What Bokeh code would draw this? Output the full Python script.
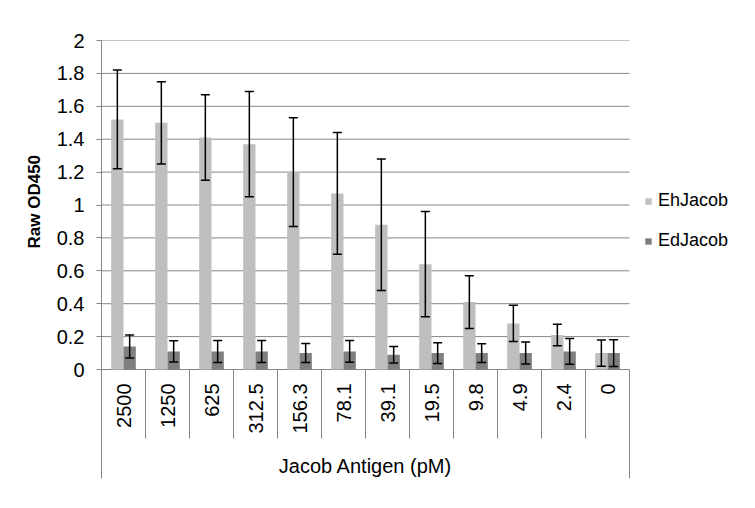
import math
from bokeh.plotting import figure
from bokeh.models import (Range1d, FixedTicker, ColumnDataSource, Whisker, TeeHead,
                          Title, Legend, LegendItem)
from bokeh.core.properties import value
from bokeh.embed import file_html
from bokeh.resources import INLINE

# ---- data ----
categories = ["2500", "1250", "625", "312.5", "156.3", "78.1", "39.1", "19.5", "9.8", "4.9", "2.4", "0"]
eh_values = [1.52, 1.50, 1.41, 1.37, 1.20, 1.07, 0.88, 0.64, 0.41, 0.28, 0.21, 0.10]
eh_errors = [0.30, 0.25, 0.26, 0.32, 0.33, 0.37, 0.40, 0.32, 0.16, 0.11, 0.065, 0.08]
ed_values = [0.14, 0.11, 0.11, 0.11, 0.10, 0.11, 0.09, 0.10, 0.10, 0.10, 0.11, 0.10]
ed_errors = [0.07, 0.065, 0.067, 0.067, 0.058, 0.066, 0.05, 0.063, 0.057, 0.067, 0.078, 0.081]
series_names = ["EhJacob", "EdJacob"]
y_ticks = [0, 0.2, 0.4, 0.6, 0.8, 1, 1.2, 1.4, 1.6, 1.8, 2]
y_tick_labels = ["0", "0.2", "0.4", "0.6", "0.8", "1", "1.2", "1.4", "1.6", "1.8", "2"]
x_title = "Jacob Antigen (pM)"
y_title = "Raw OD450"

FONT = "Liberation Sans"
GRID = "#868686"
LIGHT = "#bfbfbf"
DARK = "#7f7f7f"

n = len(categories)
centers = [i + 0.5 for i in range(n)]
bar_w = 0.28
x_extra = 2.636   # room right of the category area for the legend

p = figure(width=745, height=500, output_backend="svg", toolbar_location=None,
           x_range=Range1d(0, n + x_extra), y_range=Range1d(-0.6626, 2),
           min_border_left=101, min_border_right=0, min_border_top=40, min_border_bottom=22)
p.outline_line_color = None
p.background_fill_color = "white"
p.border_fill_color = "white"

p.xaxis.visible = False
p.xgrid.visible = False
p.ygrid.visible = False

ya = p.yaxis[0]
ya.ticker = FixedTicker(ticks=y_ticks)
ya.major_label_overrides = {t: l for t, l in zip(y_ticks, y_tick_labels)}
ya.axis_line_color = GRID
ya.major_tick_line_color = GRID
ya.major_tick_out = 5
ya.major_tick_in = 0
ya.minor_tick_line_color = None
ya.major_label_standoff = 12
ya.major_label_text_font = FONT
ya.major_label_text_font_size = "20px"
ya.major_label_text_color = "black"

# horizontal gridlines across the category area only
p.segment(x0=0, y0=y_ticks, x1=n, y1=y_ticks, line_color=GRID, line_width=1)

src = ColumnDataSource(dict(
    x_eh=[c - bar_w / 2 for c in centers],
    x_ed=[c + bar_w / 2 for c in centers],
    eh=eh_values, ed=ed_values,
    eh_up=[v + e for v, e in zip(eh_values, eh_errors)],
    eh_lo=[v - e for v, e in zip(eh_values, eh_errors)],
    ed_up=[v + e for v, e in zip(ed_values, ed_errors)],
    ed_lo=[v - e for v, e in zip(ed_values, ed_errors)],
))

r_eh = p.vbar(x="x_eh", top="eh", bottom=0, width=bar_w, source=src,
              fill_color=LIGHT, line_color=None)
r_ed = p.vbar(x="x_ed", top="ed", bottom=0, width=bar_w, source=src,
              fill_color=DARK, line_color=None)

for base, up, lo in (("x_eh", "eh_up", "eh_lo"), ("x_ed", "ed_up", "ed_lo")):
    w = Whisker(source=src, base=base, upper=up, lower=lo, dimension="height",
                line_color="black", line_width=1.5, level="overlay",
                upper_head=TeeHead(size=9, line_color="black", line_width=1.5),
                lower_head=TeeHead(size=9, line_color="black", line_width=1.5))
    p.add_layout(w)

# category dividers below the axis
bounds = list(range(n + 1))
p.segment(x0=bounds[1:-1], y0=0, x1=bounds[1:-1], y1=-0.42, line_color=GRID, line_width=1)
p.segment(x0=[bounds[-1]], y0=0, x1=[bounds[-1]], y1=-0.6626, line_color=GRID, line_width=1)

# category labels
p.text(x=centers, y=-0.085, text=categories, angle=math.pi / 2,
       text_align="right", text_baseline="middle",
       text_font=value(FONT), text_font_size=value("20px"), text_color="black")

# x title
p.text(x=[n / 2], y=-0.584, text=[x_title], text_align="center", text_baseline="middle",
       text_font=value(FONT), text_font_size=value("20px"), text_color="black")

# y title
p.add_layout(Title(text=y_title, align="left", offset=230, vertical_align="middle",
                   text_font=FONT, text_font_size="17px", text_font_style="bold",
                   text_color="black", standoff=17), "left")

legend = Legend(items=[LegendItem(label=series_names[0], renderers=[r_eh]),
                       LegendItem(label=series_names[1], renderers=[r_ed])],
                location=(543, 227), orientation="vertical",
                glyph_width=8, glyph_height=8, label_standoff=6, label_height=20,
                spacing=19, padding=0, margin=0,
                border_line_color=None, background_fill_alpha=0,
                label_text_font=FONT, label_text_font_size="18px", label_text_color="black")
p.add_layout(legend)

open("out.html", "w").write(file_html(p, INLINE))
